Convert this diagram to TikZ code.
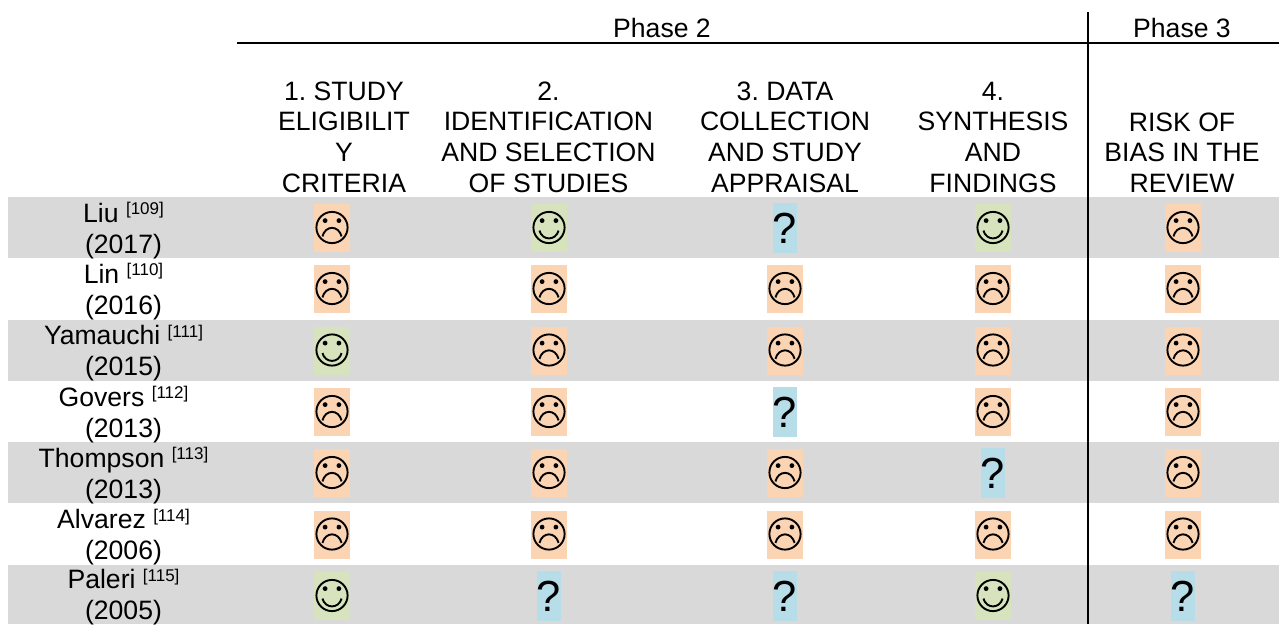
\documentclass[tikz,border=0pt]{standalone}
\usepackage{fontspec}
\setmainfont{Liberation Sans}
\definecolor{bandgray}{HTML}{D9D9D9}
\definecolor{chipgreen}{HTML}{D6E3BC}
\definecolor{chiporange}{HTML}{FBD4B4}
\definecolor{chipblue}{HTML}{B6DDE8}
\newcommand{\refmark}[1]{\raisebox{7.5pt}{\fontsize{17}{17}\selectfont[#1]}}
\tikzset{
  x=1pt,y=-1pt,
  every node/.style={inner sep=0pt,outer sep=0pt},
  rule/.style={line width=2pt,black},
  band/.style={fill=bandgray,draw=none},
  headtext/.style={font=\fontsize{26.6}{30.7}\selectfont\frenchspacing,align=center,anchor=south},
  phasetext/.style={font=\fontsize{26.6}{30.7}\selectfont,anchor=base},
  studytext/.style={font=\fontsize{26.6}{30.7}\selectfont,align=center,anchor=center},
  facechip/.style={minimum width=36pt,minimum height=48pt},
  sadchip/.style={facechip,fill=chiporange},
  happychip/.style={facechip,fill=chipgreen},
  askchip/.style={minimum width=24pt,minimum height=50pt,fill=chipblue,font=\fontsize{43.5}{43.5}\selectfont},
  pics/sadface/.style={code={
    \draw[line width=1.9pt] (0,-0.5) circle[radius=15.6];
    \fill (-6.9,-7.4) circle[radius=2.4] (6.9,-7.4) circle[radius=2.4];
    \draw[line width=1.9pt] (-9.6,8.4) .. controls (-6.5,-3) and (6.5,-3) .. (9.6,8.4);
  }},
  pics/happyface/.style={code={
    \draw[line width=1.9pt] (0,-0.5) circle[radius=15.6];
    \fill (-6.9,-7.4) circle[radius=2.4] (6.9,-7.4) circle[radius=2.4];
    \draw[line width=1.9pt] (-9.6,2.6) .. controls (-6.5,13) and (6.5,13) .. (9.6,2.6);
  }},
}
\newcommand{\sadcell}[3]{\node[sadchip] (#1) at (#2,#3) {}; \pic at (#2,#3) {sadface};}
\newcommand{\happycell}[3]{\node[happychip] (#1) at (#2,#3) {}; \pic at (#2,#3) {happyface};}
\newcommand{\askcell}[3]{\node[askchip] (#1) at (#2,#3) {?};}
\begin{document}
\begin{tikzpicture}
\useasboundingbox (0,0) rectangle (1279,624);
% bands
\fill[band] (8,197) rectangle (1279,258);
\fill[band] (8,320) rectangle (1279,381);
\fill[band] (8,442) rectangle (1279,503);
\fill[band] (8,565) rectangle (1279,624);
% rules
\coordinate (ruleL) at (237,43);
\coordinate (ruleR) at (1279,43);
\coordinate (divT) at (1088,12);
\coordinate (divB) at (1088,624);
\draw[rule] (ruleL) -- (ruleR);
\draw[rule] (divT) -- (divB);
% phases
\node[phasetext] (phaseB) at (662,37) {Phase 2};
\node[phasetext] (phaseC) at (1182,37) {Phase 3};
% heads
\node[headtext] (headA) at (344,192.5) {1. STUDY\\ELIGIBILIT\\Y\\CRITERIA};
\node[headtext] (headB) at (548.5,192.5) {2.\\IDENTIFICATION\\AND SELECTION\\OF STUDIES};
\node[headtext] (headC) at (785,192.5) {3. DATA\\COLLECTION\\AND STUDY\\APPRAISAL};
\node[headtext] (headD) at (993,192.5) {4.\\SYNTHESIS\\AND\\FINDINGS};
\node[headtext] (headE) at (1182,192.5) {RISK OF\\BIAS IN THE\\REVIEW};
% study labels
\node[studytext] (studyA) at (123.5,230.5) {Liu \refmark{109}\\(2017)};
\node[studytext] (studyB) at (123.5,291.5) {Lin \refmark{110}\\(2016)};
\node[studytext] (studyC) at (123.5,353) {Yamauchi \refmark{111}\\(2015)};
\node[studytext] (studyD) at (123.5,414.5) {Govers \refmark{112}\\(2013)};
\node[studytext] (studyE) at (123.5,475.5) {Thompson \refmark{113}\\(2013)};
\node[studytext] (studyF) at (123.5,537) {Alvarez \refmark{114}\\(2006)};
\node[studytext] (studyG) at (123.5,596.8) {Paleri \refmark{115}\\(2005)};
% row 1
\sadcell{a1}{332}{228}
\happycell{a2}{549}{228}
\askcell{a3}{785}{228}
\happycell{a4}{993}{228}
\sadcell{a5}{1183}{228}
% row 2
\sadcell{b1}{332}{289}
\sadcell{b2}{549}{289}
\sadcell{b3}{785}{289}
\sadcell{b4}{993}{289}
\sadcell{b5}{1183}{289}
% row 3
\happycell{c1}{332}{350.5}
\sadcell{c2}{549}{350.5}
\sadcell{c3}{785}{350.5}
\sadcell{c4}{993}{350.5}
\sadcell{c5}{1183}{350.5}
% row 4
\sadcell{d1}{332}{412}
\sadcell{d2}{549}{412}
\askcell{d3}{785}{412}
\sadcell{d4}{993}{412}
\sadcell{d5}{1183}{412}
% row 5
\sadcell{e1}{332}{473}
\sadcell{e2}{549}{473}
\sadcell{e3}{785}{473}
\askcell{e4}{993}{473}
\sadcell{e5}{1183}{473}
% row 6
\sadcell{f1}{332}{534.5}
\sadcell{f2}{549}{534.5}
\sadcell{f3}{785}{534.5}
\sadcell{f4}{993}{534.5}
\sadcell{f5}{1183}{534.5}
% row 7
\happycell{g1}{332}{596}
\askcell{g2}{549}{596}
\askcell{g3}{785}{596}
\happycell{g4}{993}{596}
\askcell{g5}{1183}{596}
\end{tikzpicture}
\end{document}
